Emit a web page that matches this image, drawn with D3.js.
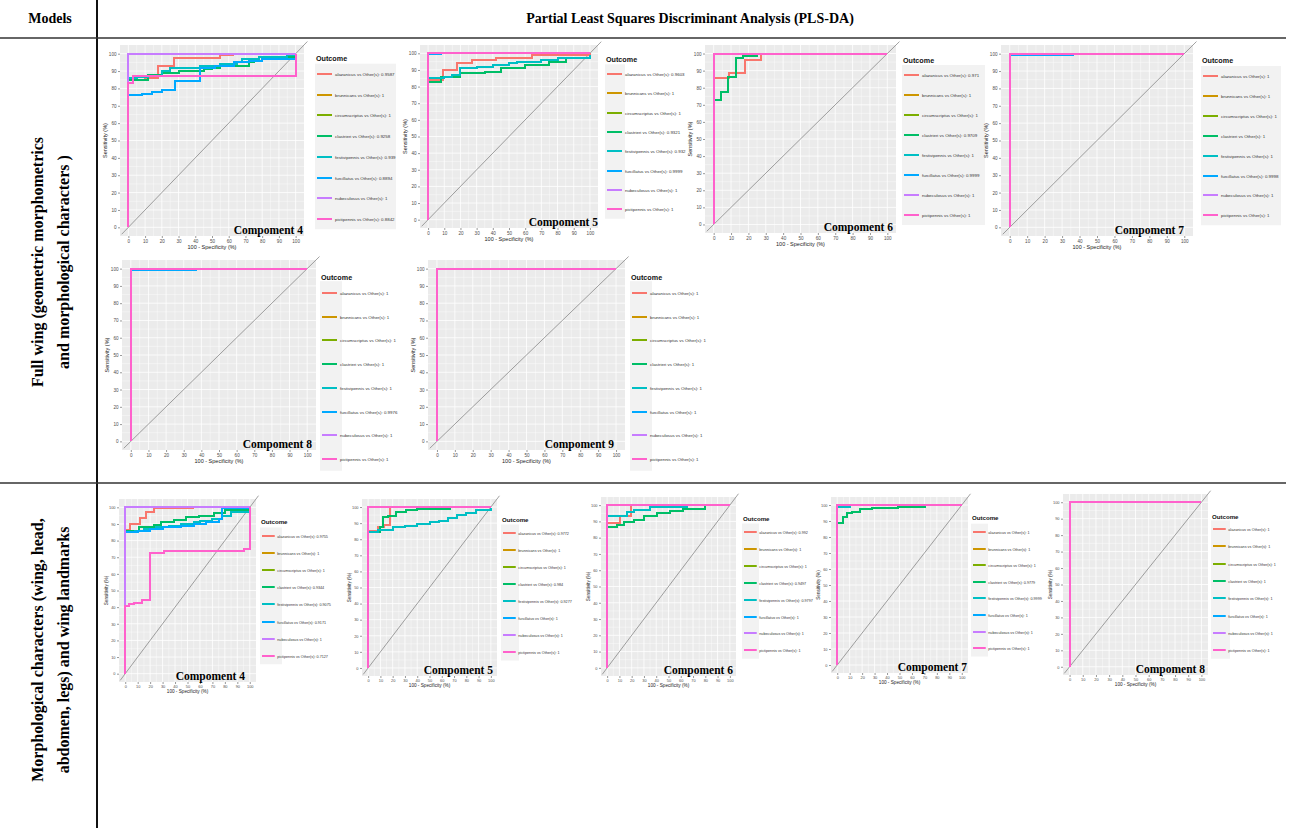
<!DOCTYPE html>
<html>
<head>
<meta charset="utf-8">
<script src="https://cdn.jsdelivr.net/npm/d3@7"></script>
<style>
  body { margin: 0; background: #fff; }
  text { font-family: "Liberation Sans", Arial, sans-serif; }
  .serif { font-family: "Liberation Serif", "Times New Roman", serif; font-weight: bold; }
</style>
</head>
<body>
<svg id="fig" width="1290" height="828"></svg>
<script>
// ---- data ----
const species = ["alazanicus", "brunnicans", "circumscriptus", "clastrieri",
                 "festivipennis", "furcillatus", "nubeculosus", "pictipennis"]
const colors = ["#F8766D", "#CD9600", "#7CAE00", "#00BE67", "#00BFC4", "#00A9FF", "#C77CFF", "#FF61CC"]
const axisTicks = [0, 10, 20, 30, 40, 50, 60, 70, 80, 90, 100]
const rowLabels = [
  ["Full wing (geometric morphometrics", "and morphological characters )"],
  ["Morphological characters (wing, head,", "abdomen, legs) and wing landmarks"]
]
const components = [4, 5, 6, 7, 8, 9, 4, 5, 6, 7, 8]

// AUC shown in the legend of every panel (species order)
const aucWing4 = [0.9587, 1, 1, 0.9258, 0.939, 0.8894, 1, 0.8842]
const aucWing5 = [0.9603, 1, 1, 0.9321, 0.932, 0.9999, 1, 1]
const aucWing6 = [0.971, 1, 1, 0.9709, 1, 0.9999, 1, 1]
const aucWing7 = [1, 1, 1, 1, 1, 0.9998, 1, 1]
const aucWing8 = [1, 1, 1, 1, 1, 0.9976, 1, 1]
const aucWing9 = [1, 1, 1, 1, 1, 1, 1, 1]
const aucMorph4 = [0.9755, 1, 1, 0.9344, 0.9075, 0.9171, 1, 0.7127]
const aucMorph5 = [0.9772, 1, 1, 0.984, 0.9277, 1, 1, 1]
const aucMorph6 = [0.992, 1, 1, 0.9497, 0.9797, 1, 1, 1]
const aucMorph7 = [1, 1, 1, 0.9779, 0.9999, 1, 1, 1]
const aucMorph8 = [1, 1, 1, 1, 1, 1, 1, 1]

// ROC step points [100 - specificity, sensitivity]; species not listed reach 100 at once
const rocWing4 = {
  alazanicus: [[0, 85], [10, 86], [18, 93], [27, 97.5], [55, 99.4], [63, 99.4]],
  clastrieri: [[0, 85], [12, 88], [20, 89], [30, 90], [45, 91], [50, 92], [55, 93], [72, 95], [75, 96], [78, 98], [100, 98.5]],
  festivipennis: [[0, 86], [5, 86.5], [12, 87], [20, 90], [25, 92], [43, 93], [55, 94], [65, 95], [68, 97], [78, 98], [95, 99], [100, 100]],
  furcillatus: [[0, 76], [8, 77], [14, 78], [20, 79], [28, 84], [43, 92], [52, 93], [63, 95], [72, 96], [80, 97], [100, 97.5]],
  pictipennis: [[0, 83], [3, 87], [100, 100]]
}
const rocWing5 = {
  alazanicus: [[0, 84], [9, 90], [18, 94], [27, 96], [42, 97], [64, 99], [100, 100]],
  clastrieri: [[0, 83], [8, 86], [20, 88], [35, 89], [45, 91], [60, 93], [75, 95], [85, 97], [100, 99]],
  festivipennis: [[0, 85], [10, 86], [15, 87], [20, 91], [30, 92], [40, 93], [50, 94], [55, 95], [70, 96], [80, 97], [100, 99]],
  furcillatus: [[0, 99.3], [8, 100], [100, 100]]
}
const rocWing6 = {
  alazanicus: [[0, 85.4], [9, 88.7], [18, 96.5], [27.5, 100], [100, 100]],
  clastrieri: [[0, 73], [4, 77.5], [8.5, 86], [13, 97.5], [17, 98.4], [25, 100], [100, 100]],
  furcillatus: [[0, 99.5], [7, 100], [100, 100]]
}
const rocWing7 = { furcillatus: [[0, 99.4], [36, 100], [100, 100]] }
const rocWing8 = { furcillatus: [[0, 99.4], [37, 100], [100, 100]] }
const rocWing9 = {}
const rocMorph4 = {
  alazanicus: [[0, 86.5], [4, 90], [12, 93.5], [17, 97], [23, 99.4], [55, 99.5]],
  clastrieri: [[0, 86], [11, 88], [23, 89.5], [29, 91], [39, 92.5], [49, 94], [59, 95], [71, 96.5], [80, 98.5], [100, 99.6]],
  festivipennis: [[0, 85], [8, 86], [15, 87], [25, 88], [35, 89], [45, 90], [55, 91], [60, 92], [70, 93], [78, 95], [85, 97], [100, 99]],
  furcillatus: [[0, 85], [10, 86], [20, 87], [30, 88], [45, 89], [55, 90], [65, 91], [75, 93], [78, 99.5], [100, 100]],
  pictipennis: [[0, 40.4], [3, 41.8], [7, 42.4], [13.5, 44], [20, 72.7], [31, 73.7], [95, 74.7], [100, 100]]
}
const rocMorph5 = {
  alazanicus: [[0, 85], [8, 87.6], [13, 88.6], [17.7, 100], [100, 100]],
  clastrieri: [[0, 84.5], [9.5, 87.6], [12, 93.8], [16.5, 94.4], [23, 97], [31, 98], [39.5, 98.5], [67, 99.6]],
  festivipennis: [[0, 84.5], [8, 85.5], [15, 86], [20, 87.5], [30, 88.5], [40, 89.5], [50, 90.5], [58, 91.5], [65, 93], [72, 95], [80, 96], [88, 98], [100, 99.5]]
}
const rocMorph6 = {
  alazanicus: [[0, 88.8], [10.3, 93.5], [19.5, 100], [100, 100]],
  clastrieri: [[0, 86.7], [8, 87.8], [13.5, 89.4], [21.6, 90.8], [29.7, 93.5], [40.5, 95], [51, 96.3], [62, 97.6], [80, 99.6]],
  festivipennis: [[0, 93.5], [16, 95.5], [21.6, 97.3], [35, 99], [65, 99.6]]
}
const rocMorph7 = {
  clastrieri: [[0, 88.5], [4.3, 92.3], [8, 94.8], [11.5, 95.8], [18, 97.5], [27.6, 98.3], [49, 99], [70.5, 100]],
  festivipennis: [[0, 99], [10.5, 100], [100, 100]]
}
const rocMorph8 = {}

const aucs = [aucWing4, aucWing5, aucWing6, aucWing7, aucWing8, aucWing9,
              aucMorph4, aucMorph5, aucMorph6, aucMorph7, aucMorph8]
const rocs = [rocWing4, rocWing5, rocWing6, rocWing7, rocWing8, rocWing9,
              rocMorph4, rocMorph5, rocMorph6, rocMorph7, rocMorph8]

// ---- layout (pixels) ----
// box: panel [left, top, right, bottom]; leg: [keyX, titleY, firstY, step, bgWidth]; compX: label right edge
const layout = [
  { box: [120, 45, 304, 236], leg: [317, 58, 74, 20.7, 81], compX: 303, k: 1 },
  { box: [420, 45, 598, 228], leg: [607, 59, 74, 19.3, 20], compX: 598, k: 1 },
  { box: [705, 45, 896, 233], leg: [904, 60, 75, 20, 83], compX: 893, k: 1 },
  { box: [1001, 45, 1193, 236], leg: [1203, 60, 76, 19.9, 80], compX: 1184, k: 1 },
  { box: [122, 260, 316, 450], leg: [322, 277, 293, 23.7, 22], compX: 312, k: 1 },
  { box: [428, 260, 625, 450], leg: [632, 277, 293, 23.7, 22], compX: 614, k: 1 },
  { box: [119, 499, 256, 682], leg: [262, 521, 536, 17.1, 22], compX: 245, k: 0.85 },
  { box: [362, 499, 497, 676], leg: [503, 519, 533, 17, 18], compX: 493, k: 0.85 },
  { box: [601, 497, 736, 676], leg: [744, 518, 532, 16.9, 17], compX: 733, k: 0.85 },
  { box: [831, 497, 968, 673], leg: [973, 517, 532, 16.6, 17], compX: 967, k: 0.85 },
  { box: [1063, 494, 1208, 675], leg: [1213, 516, 529, 17.3, 19], compX: 1205, k: 0.85 }
]

const svg = d3.select("#fig")

// ---- table frame ----
svg.append("line").attr("x1", 97).attr("x2", 97).attr("y1", 0).attr("y2", 828)
  .attr("stroke", "#111").attr("stroke-width", 2)
;[38, 483].forEach(y => {
  svg.append("line").attr("x1", 0).attr("x2", 1286).attr("y1", y).attr("y2", y)
    .attr("stroke", "#333").attr("stroke-width", 1.3)
})
svg.append("text").attr("class", "serif").attr("x", 50).attr("y", 23)
  .attr("text-anchor", "middle").attr("font-size", 14).text("Models")
svg.append("text").attr("class", "serif").attr("x", 690).attr("y", 23)
  .attr("text-anchor", "middle").attr("font-size", 14)
  .text("Partial Least Squares Discriminant Analysis (PLS-DA)")

const rowCenters = [262, 650]
rowLabels.forEach((lines, r) => {
  lines.forEach((t, i) => {
    const x = [37, 63][i]
    svg.append("text").attr("class", "serif")
      .attr("transform", `translate(${x},${rowCenters[r]}) rotate(-90)`)
      .attr("text-anchor", "middle").attr("dominant-baseline", "central")
      .attr("font-size", 16).text(t)
  })
})

// ---- ROC panels ----
const perfect = [[0, 0], [0, 100], [100, 100]]

layout.forEach((L, p) => {
  const [l, t, r, b] = L.box
  const k = L.k
  const x = d3.scaleLinear().domain([-5, 105]).range([l, r])
  const y = d3.scaleLinear().domain([-5, 105]).range([b, t])
  const g = svg.append("g")

  g.append("rect").attr("x", l).attr("y", t).attr("width", r - l).attr("height", b - t)
    .attr("fill", "#EBEBEB")
  const minor = d3.range(5, 100, 10)
  g.selectAll(".mx").data(minor).join("line")
    .attr("x1", d => x(d)).attr("x2", d => x(d)).attr("y1", t).attr("y2", b)
    .attr("stroke", "#fff").attr("stroke-width", 0.4)
  g.selectAll(".my").data(minor).join("line")
    .attr("y1", d => y(d)).attr("y2", d => y(d)).attr("x1", l).attr("x2", r)
    .attr("stroke", "#fff").attr("stroke-width", 0.4)
  g.selectAll(".gx").data(axisTicks).join("line")
    .attr("x1", d => x(d)).attr("x2", d => x(d)).attr("y1", t).attr("y2", b)
    .attr("stroke", "#fff").attr("stroke-width", 0.8)
  g.selectAll(".gy").data(axisTicks).join("line")
    .attr("y1", d => y(d)).attr("y2", d => y(d)).attr("x1", l).attr("x2", r)
    .attr("stroke", "#fff").attr("stroke-width", 0.8)

  // axes
  const fsTick = 4.6 * k
  const xAxis = g.append("g").attr("transform", `translate(0,${b})`)
    .call(d3.axisBottom(x).tickValues(axisTicks).tickSize(2).tickPadding(1.5))
  const yAxis = g.append("g").attr("transform", `translate(${l},0)`)
    .call(d3.axisLeft(y).tickValues(axisTicks).tickSize(2).tickPadding(1.5))
  ;[xAxis, yAxis].forEach(a => {
    a.select(".domain").remove()
    a.selectAll("line").attr("stroke", "#333").attr("stroke-width", 0.5)
    a.selectAll("text").attr("fill", "#4D4D4D").attr("font-size", fsTick)
      .attr("font-family", "Liberation Sans, Arial, sans-serif")
  })
  g.append("text").attr("x", (l + r) / 2).attr("y", b + 13 * k)
    .attr("text-anchor", "middle").attr("font-size", 5.5 * k).attr("fill", "#222")
    .text("100 - Specificity (%)")
  g.append("text").attr("transform", `translate(${l - 13 * k},${(t + b) / 2}) rotate(-90)`)
    .attr("text-anchor", "middle").attr("font-size", 5.5 * k).attr("fill", "#222")
    .text("Sensitivity (%)")

  // chance diagonal
  g.append("line").attr("x1", x(-4)).attr("y1", y(-4)).attr("x2", x(107)).attr("y2", y(107))
    .attr("stroke", "#7a7a7a").attr("stroke-width", 0.7)

  // curves: snapped to whole pixels so stacked lines don't bleed colours at the edges
  const line = d3.line()
    .x(d => Math.round(x(d[0])))
    .y(d => Math.round(y(d[1])))
    .curve(d3.curveStepAfter)
  const lw = k === 1 ? 2 : 2
  species.forEach((s, i) => {
    const pts = rocs[p][s] ? [[0, 0]].concat(rocs[p][s]) : perfect
    g.append("path").attr("d", line(pts)).attr("fill", "none")
      .attr("stroke", colors[i]).attr("stroke-width", lw)
  })

  // component label, sitting on the panel's bottom edge
  g.append("text").attr("class", "serif").attr("x", L.compX).attr("y", b - 2)
    .attr("text-anchor", "end").attr("font-size", 11.5).text("Compoment " + components[p])

  // legend
  const [kx, ty, fy, step, bw] = L.leg
  g.append("text").attr("x", kx - 1).attr("y", ty + 2.5).attr("font-size", 7.2 * k)
    .attr("font-weight", "bold").attr("fill", "#111").text("Outcome")
  g.append("rect").attr("x", kx - 2).attr("y", fy - step / 2).attr("width", bw)
    .attr("height", step * species.length).attr("fill", "#F2F2F2")
  species.forEach((s, i) => {
    const yy = Math.round(fy + i * step)
    g.append("line").attr("x1", kx).attr("x2", kx + 15 * k).attr("y1", yy).attr("y2", yy)
      .attr("stroke", colors[i]).attr("stroke-width", 2)
    g.append("text").attr("x", kx + 18 * k).attr("y", yy + 1.5).attr("font-size", 4.4 * k)
      .attr("fill", "#333").text(`${s} vs Other(s): ${aucs[p][i]}`)
  })
})
</script>
</body>
</html>
